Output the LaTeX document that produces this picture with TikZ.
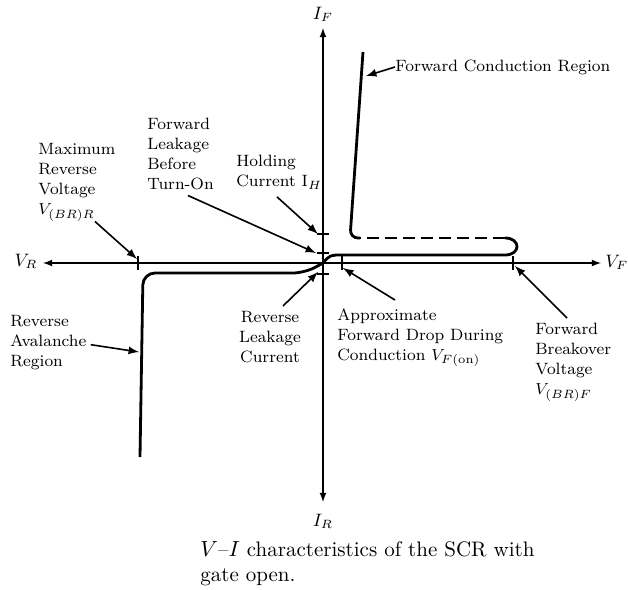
\documentclass[tikz,border=0pt]{standalone}
\usepackage{amsmath}
\usepackage{tikz}
\usetikzlibrary{calc,arrows,arrows.meta}

\tikzset{
	lbl/.style={inner sep=0pt,align=left,anchor=north west,font=\fontsize{8.2}{10}\selectfont},
	axlbl/.style={inner sep=1pt,font=\fontsize{9}{10}\selectfont},
	pointer/.style={->,>=latex,thick},
	axisline/.style={<->,>=latex,semithick},
	curve/.style={line width=1.4pt,line join=round},
	tickmark/.style={semithick}
}

\begin{document}
\begin{tikzpicture}[x=0.5pt,y=-0.5pt]
	\useasboundingbox (0,0) rectangle (628,590);

	%axis
	\coordinate (O) at (323,263);
	\coordinate (top) at (323,28);
	\coordinate (bot) at (323,502);
	\coordinate (lft) at (43,263);
	\coordinate (rgt) at (601,263);
	\draw[axisline] (bot)--(top);	%vertical line
	\draw[axisline] (lft)--(rgt);	%horizontal line
		\node[axlbl] (IF) at (323,14) {$I_F$};
		\node[axlbl] (IR) at (323,521) {$I_R$};
		\node[axlbl] (VR) at (26,261) {$V_R$};
		\node[axlbl,anchor=west,inner sep=0pt] (VF) at (605,262) {$V_F$};

	%ticks on axis
	\coordinate (tIH) at (323,234);		%holding current
	\coordinate (tLeak) at (323,253);	%forward leakage
	\coordinate (tRev) at (323,274);	%reverse leakage
	\coordinate (tBRR) at (138,263);	%max reverse voltage
	\coordinate (tFon) at (342,263);	%forward drop
	\coordinate (tBRF) at (513,263);	%breakover
	\foreach \t in {tIH,tLeak,tRev}
		\draw[tickmark] ($(\t)+(-6,0)$)--($(\t)+(6,0)$);
	\foreach \t in {tBRR,tFon,tBRF}
		\draw[tickmark] ($(\t)+(0,-7)$)--($(\t)+(0,7)$);

	%characteristic
	\draw[curve,rounded corners=6pt] (O)--(305,273)--(143,273)--(140,457);	%reverse side
	\draw[curve] (O) .. controls (330,255) .. (342,255) -- (505,255)
		.. controls (521,255) and (521,238) .. (505,238);					%forward blocking
	\draw[curve,dash pattern=on 6pt off 3pt] (505,238)--(360,238);			%holding
	\draw[curve,rounded corners=4pt] (360,238)--(350,238)--(363,52);		%conduction

	%captions
	\node[lbl] (maxrev) at (38,143) {Maximum\\Reverse\\Voltage\\$V_{(BR)R}$};
	\node[lbl] (fwdleak) at (147,118) {Forward\\Leakage\\Before\\Turn-On};
	\node[lbl] (hold) at (236,155) {Holding\\Current I$_H$};
	\node[lbl,anchor=west] (fwdcond) at (395,67) {Forward Conduction Region};
	\node[lbl] (revaval) at (10,315) {Reverse\\Avalanche\\Region};
	\node[lbl,align=center,anchor=north] (revleak) at (270,311) {Reverse\\Leakage\\Current};
	\node[lbl] (approx) at (337,308) {Approximate\\Forward Drop During\\Conduction $V_{F(\mathrm{on})}$};
	\node[lbl] (brkover) at (535,323) {Forward\\Breakover\\Voltage\\$V_{(BR)F}$};

	%pointers
	\draw[pointer] ($(maxrev.south west)+(57,0)$)--($(tBRR)+(-1,-4)$);
	\draw[pointer] ($(fwdleak.south west)+(41,5)$)--($(tLeak)+(-7,0)$);
	\draw[pointer] ($(hold.south west)+(41,7)$)--($(tIH)+(-5,0)$);
	\draw[pointer] (fwdcond.west)--(366,76);
	\draw[pointer] ($(revaval.east)+(4,2)$)--(139,352);
	\draw[pointer] ($(revleak.north)+(13,-5)$)--($(tRev)+(-5,-2)$);
	\draw[pointer] ($(approx.north west)+(58,-8)$)--($(tFon)+(1,5)$);
	\draw[pointer] ($(brkover.north west)+(32,-5)$)--($(tBRF)+(2,3)$);

	%figure caption
	\node[lbl,font=\fontsize{10.5}{12.5}\selectfont] (figcap) at (200,541) {$V$--$I$ characteristics of the SCR with\\gate open.};
\end{tikzpicture}
\end{document}
